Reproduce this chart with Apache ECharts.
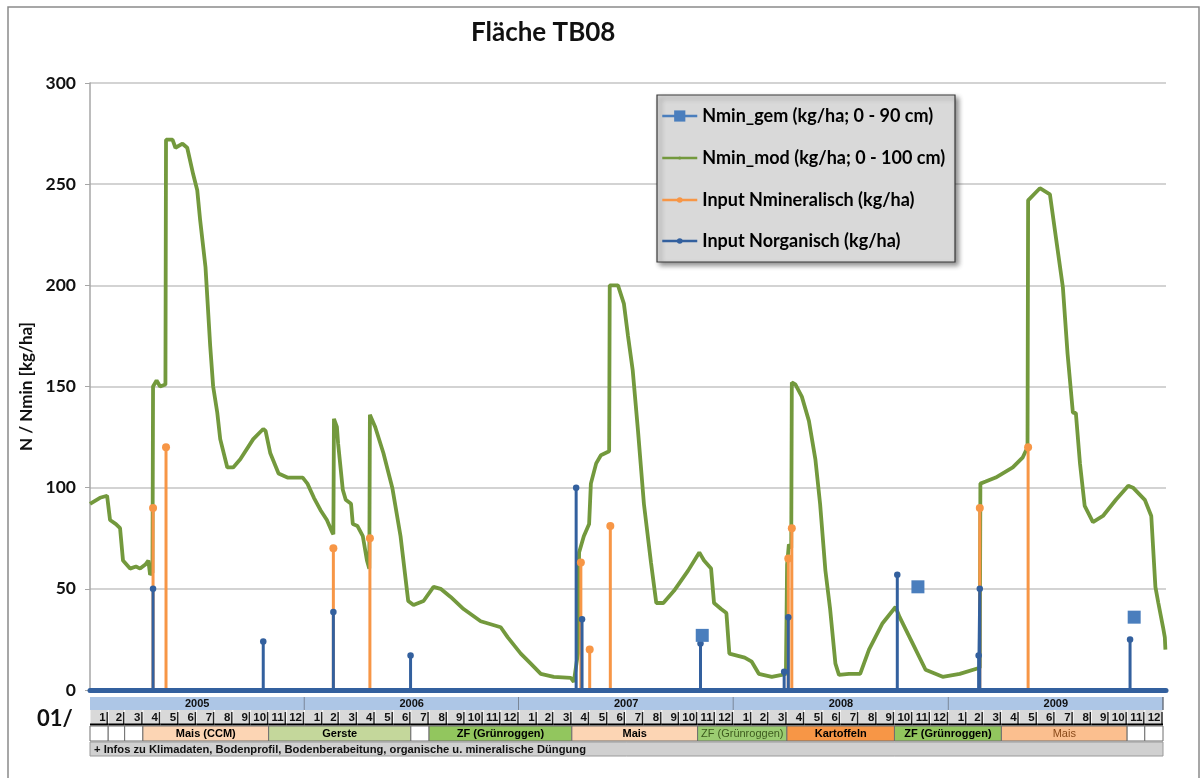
<!DOCTYPE html>
<html><head><meta charset="utf-8">
<script src="https://cdn.jsdelivr.net/npm/echarts@6/dist/echarts.min.js"></script>
<style>html,body{margin:0;padding:0;background:#fff}#c{width:1204px;height:778px}</style>
</head><body><div id="c"></div>
<script>
// ---------- DATA ----------
const nminModDates = ['2005-01-01','2005-01-18','2005-01-30','2005-02-04','2005-02-14','2005-02-21','2005-02-26','2005-03-10','2005-03-20','2005-03-27','2005-04-05','2005-04-10','2005-04-13','2005-04-17','2005-04-18','2005-04-24','2005-04-30','2005-05-09','2005-05-10','2005-05-21','2005-05-26','2005-06-07','2005-06-15','2005-06-25','2005-07-02','2005-07-07','2005-07-16','2005-07-24','2005-07-29','2005-08-05','2005-08-10','2005-08-22','2005-09-01','2005-09-13','2005-10-05','2005-10-22','2005-10-26','2005-11-03','2005-11-17','2005-12-02','2005-12-28','2006-01-05','2006-01-16','2006-01-27','2006-02-07','2006-02-16','2006-02-18','2006-02-19','2006-02-24','2006-02-26','2006-03-06','2006-03-11','2006-03-20','2006-03-23','2006-03-31','2006-04-09','2006-04-16','2006-04-20','2006-04-21','2006-04-30','2006-05-14','2006-05-29','2006-06-12','2006-06-25','2006-07-04','2006-07-21','2006-08-07','2006-08-19','2006-09-05','2006-09-27','2006-10-26','2006-11-29','2006-12-11','2007-01-02','2007-01-19','2007-02-05','2007-02-27','2007-03-28','2007-04-02','2007-04-09','2007-04-11','2007-04-19','2007-04-28','2007-05-01','2007-05-10','2007-05-18','2007-06-01','2007-06-02','2007-06-16','2007-06-26','2007-07-03','2007-07-11','2007-07-20','2007-07-30','2007-08-11','2007-08-20','2007-09-01','2007-09-19','2007-10-13','2007-11-01','2007-11-09','2007-11-21','2007-11-26','2007-12-08','2007-12-17','2007-12-22','2008-01-17','2008-01-29','2008-02-10','2008-03-03','2008-03-20','2008-03-27','2008-03-29','2008-04-01','2008-04-05','2008-04-06','2008-04-12','2008-04-23','2008-05-05','2008-05-16','2008-05-24','2008-06-02','2008-06-10','2008-06-19','2008-06-25','2008-07-12','2008-07-31','2008-08-15','2008-09-07','2008-09-29','2008-10-06','2008-10-28','2008-11-19','2008-12-18','2009-01-16','2009-02-19','2009-02-20','2009-03-01','2009-03-18','2009-04-16','2009-05-03','2009-05-11','2009-05-12','2009-06-01','2009-06-18','2009-06-28','2009-07-10','2009-07-18','2009-07-27','2009-08-01','2009-08-08','2009-08-16','2009-08-30','2009-09-16','2009-10-08','2009-10-29','2009-11-06','2009-11-26','2009-12-07','2009-12-14','2009-12-19','2009-12-27','2009-12-30','2009-12-31'];
const nminModValues = [92,95,96,84,82,80,64,60,61,60,62,64,57,58,150,153,150,151,272,272,268,270,268,255,247,232,209,170,150,137,124,110,110,114,124,129,128,117,107,105,105,102,95,89,84,78,77,134,130,122,99,94,92,82,81,76,64,60,136,130,117,100,76,44,42,44,51,50,46,40,34,31,26,18,13,8,6.5,6,4,18,68,76,82,102,112,116,118,200,200,191,175,158,128,92,63,43,43,49,59,68,64,60,43,40,38,18,16,14,8,6.5,7.5,8,62,72,70,152,151,145,133,114,92,59,40,13,7.5,8,8,20,33,41,36,23,10,6.5,8,11,102,103,105,110,115,120,242,248,245,224,199,166,137,137,112,91,83,86,94,101,100,94,86,51,43,31,26,20];

const mineralDates  = ['2005-04-18','2005-05-10','2006-02-18','2006-04-21','2007-04-14','2007-04-29','2007-06-03','2008-03-31','2008-04-06','2009-02-19','2009-05-12'];
const mineralValues = [90,120,70,75,63,20,81,65,80,90,120];

const organicDates  = ['2005-04-18','2005-10-22','2006-02-18','2006-06-29','2007-04-06','2007-04-16','2007-11-03','2008-03-24','2008-03-31','2008-10-02','2009-02-17','2009-02-19','2009-11-01'];
const organicValues = [50,24,38.5,17,100,35,23,9,36,57,17,50,25];

const nminGemDates  = ['2007-11-06','2008-11-06','2009-11-08'];
const nminGemValues = [27,51,36];

const seriesNames = ['Nmin_gem (kg/ha; 0 - 90 cm)','Nmin_mod (kg/ha; 0 - 100 cm)','Input Nmineralisch (kg/ha)','Input Norganisch (kg/ha)'];
const years = ['2005','2006','2007','2008','2009'];
const monthLabels = ['1','2','3','4','5','6','7','8','9','10','11','12'];
const cropNames  = ['','','','Mais (CCM)','Gerste','','ZF (Grünroggen)','Mais','ZF (Grünroggen)','Kartoffeln','ZF (Grünroggen)','Mais','',''];
const cropStart  = [0,1,2,3,10,18,19,27,34,39,45,51,58,59];
const cropEnd    = [1,2,3,10,18,19,27,34,39,45,51,58,59,60];
const infoText = '+ Infos zu Klimadaten, Bodenprofil, Bodenberabeitung, organische u. mineralische Düngung';

// ---------- STYLE ----------
const FONT = 'Lato, "Noto Sans", sans-serif';
const TFONT = '"Liberation Sans", Arial, sans-serif';
const C_GEM = '#4a7ebd', C_MOD = '#73993d', C_MIN = '#f79646', C_ORG = '#33609e';
const cropStyle = [
  {fill:'#ffffff'},{fill:'#ffffff'},{fill:'#ffffff'},
  {fill:'#fcd5b4', color:'#000', weight:'bold'},
  {fill:'#c4d79b', color:'#000', weight:'bold'},
  {fill:'#ffffff'},
  {fill:'#92c65e', color:'#000', weight:'bold'},
  {fill:'#fcd5b4', color:'#000', weight:'bold'},
  {fill:'#9ccd72', color:'#3d5a1e', weight:'normal'},
  {fill:'#f79646', color:'#000', weight:'bold'},
  {fill:'#92c65e', color:'#000', weight:'bold'},
  {fill:'#fbbf8f', color:'#8a4a1a', weight:'normal'},
  {fill:'#ffffff'},{fill:'#ffffff'}
];
const ROW_TOP = [0,13,29,45], ROW_H = [13,15,15,14];

// ---------- BUILD ----------
const modData = nminModDates.map((d,i)=>[d,nminModValues[i]]);
function spikes(dates, values){
  const out=[{value:['2005-01-01',0],symbol:'none'}];
  dates.forEach((d,i)=>{
    out.push({value:[d,0],symbol:'none'},{value:[d,values[i]]},{value:[d,0],symbol:'none'});
  });
  out.push({value:['2009-12-31',0],symbol:'none'});
  return out;
}
const gemData = [];
nminGemDates.forEach((d,i)=>{ gemData.push([d,nminGemValues[i]]); if(i<nminGemDates.length-1) gemData.push([d,'-']); });

function monthTs(m){ return new Date(2005+Math.floor(m/12), m%12, 1).getTime(); }
const cells = [];
years.forEach((y,i)=>cells.push({row:0,s:i*12,e:(i+1)*12,text:y,kind:'year'}));
for(let m=0;m<60;m++) cells.push({row:1,s:m,e:m+1,text:monthLabels[m%12],kind:'month'});
cropNames.forEach((n,i)=>cells.push({row:2,s:cropStart[i],e:cropEnd[i],text:n,kind:'crop',idx:i}));
cells.push({row:3,s:0,e:60,text:infoText,kind:'info'});

function renderCell(params, api){
  const c = cells[params.dataIndex];
  const x0 = api.coord([api.value(0),0])[0], x1 = api.coord([api.value(1),0])[0];
  const top = params.coordSys.y + ROW_TOP[c.row], h = ROW_H[c.row];
  const ch = [];
  if(c.kind==='year'){
    ch.push({type:'rect',shape:{x:x0,y:top,width:x1-x0,height:h},style:{fill:'#adc6e6'}});
    ch.push({type:'line',shape:{x1:x1,y1:top,x2:x1,y2:top+h},style:{stroke:'#5f6570',lineWidth:1.3}});
    ch.push({type:'text',style:{x:(x0+x1)/2,y:top+h/2+0.5,text:c.text,align:'center',verticalAlign:'middle',font:'bold 11px '+TFONT,fill:'#111'}});
  } else if(c.kind==='month'){
    ch.push({type:'rect',shape:{x:x0+0.5,y:top,width:x1-x0-1,height:h},style:{fill:'#d9d9d9'}});
    ch.push({type:'line',shape:{x1:x1-1,y1:top+2,x2:x1-1,y2:top+h},style:{stroke:'#222',lineWidth:1.4}});
    ch.push({type:'line',shape:{x1:x0,y1:top+h-0.5,x2:x1,y2:top+h-0.5},style:{stroke:'#000',lineWidth:2}});
    ch.push({type:'text',style:{x:x1-2.5,y:top+h/2,text:c.text,align:'right',verticalAlign:'middle',font:'bold 11.5px '+TFONT,fill:'#111'}});
  } else if(c.kind==='crop'){
    const st = cropStyle[c.idx];
    ch.push({type:'rect',shape:{x:x0,y:top,width:x1-x0,height:h},style:{fill:st.fill,stroke:'#6f6f6f',lineWidth:1}});
    if(c.text) ch.push({type:'text',style:{x:(x0+x1)/2,y:top+h/2+0.5,text:c.text,align:'center',verticalAlign:'middle',font:(st.weight||'bold')+' 11px '+TFONT,fill:st.color||'#000'}});
  } else {
    ch.push({type:'rect',shape:{x:x0,y:top,width:x1-x0,height:h},style:{fill:'#d0d0d0',stroke:'#9a9a9a',lineWidth:1}});
    ch.push({type:'text',style:{x:x0+4,y:top+h/2+0.5,text:c.text,align:'left',verticalAlign:'middle',font:'bold 11.2px '+TFONT,fill:'#111'}});
  }
  return {type:'group',children:ch};
}

const legendCommon = {orient:'vertical',left:661,padding:0,itemWidth:35,
  textStyle:{fontFamily:FONT,fontSize:18,fontWeight:'bold',color:'#000'},
  lineStyle:{width:2.5}};

const chart = echarts.init(document.getElementById('c'), null, {renderer:'canvas'});
chart.setOption({
  animation:false,
  backgroundColor:'#ffffff',
  title:{text:'Fläche TB08',left:466,top:15,textStyle:{fontFamily:FONT,fontSize:26,fontWeight:'bold',color:'#111'}},
  legend:[
    Object.assign({},legendCommon,{top:107,itemHeight:14,data:[seriesNames[0]]}),
    Object.assign({},legendCommon,{top:149,itemHeight:4,data:[seriesNames[1]]}),
    Object.assign({},legendCommon,{top:191,itemHeight:7,itemGap:23,data:[seriesNames[2],seriesNames[3]]})
  ],
  grid:[{left:90,right:38,top:83,bottom:88},{left:90,right:41,top:697,height:59}],
  xAxis:[
    {type:'time',gridIndex:0,min:'2005-01-01',max:'2010-01-01',show:false},
    {type:'time',gridIndex:1,min:'2005-01-01',max:'2010-01-01',show:false}
  ],
  yAxis:[
    {type:'value',gridIndex:0,min:0,max:300,interval:50,
     name:'N / Nmin [kg/ha]',nameLocation:'middle',nameGap:52,
     nameTextStyle:{fontFamily:FONT,fontSize:17,fontWeight:'bold',color:'#111'},
     axisLine:{show:true,lineStyle:{color:'#a6a6a6',width:1.5}},
     axisTick:{show:true,length:5,lineStyle:{color:'#a6a6a6'}},
     axisLabel:{fontFamily:FONT,fontSize:17.5,fontWeight:'bold',color:'#111',margin:14},
     splitLine:{lineStyle:{color:'#c4c4c4',width:1.5}}},
    {type:'value',gridIndex:1,min:0,max:1,show:false}
  ],
  graphic:[
    {type:'rect',silent:true,z:-10,shape:{x:8,y:7,width:1191,height:800},style:{fill:'none',stroke:'#8a8a8a',lineWidth:1.5}},
    {type:'rect',silent:true,z:3,shape:{x:657,y:95,width:298,height:167},
     style:{fill:'#d9d9d9',stroke:'#3a3a3a',lineWidth:1.2,shadowBlur:5,shadowOffsetX:3,shadowOffsetY:3,shadowColor:'rgba(0,0,0,0.45)'}},
    {type:'text',silent:true,style:{x:37,y:719,text:'01/',font:'bold 22px '+FONT,fill:'#111',verticalAlign:'middle'}}
  ],
  series:[
    {name:seriesNames[0],type:'line',data:gemData,connectNulls:false,symbol:'rect',symbolSize:13,z:5,
     lineStyle:{color:C_GEM,width:2.5},itemStyle:{color:C_GEM}},
    {name:seriesNames[1],type:'line',data:modData,symbol:'circle',showSymbol:false,z:3,
     lineStyle:{color:C_MOD,width:3.8},itemStyle:{color:C_MOD}},
    {name:seriesNames[2],type:'line',data:spikes(mineralDates,mineralValues),symbol:'circle',symbolSize:8,z:4,
     lineStyle:{color:C_MIN,width:3},itemStyle:{color:C_MIN}},
    {name:seriesNames[3],type:'line',data:spikes(organicDates,organicValues),symbol:'circle',symbolSize:6.5,z:4,
     lineStyle:{color:C_ORG,width:3},itemStyle:{color:C_ORG},
     markLine:{silent:true,symbol:'none',label:{show:false},lineStyle:{color:C_ORG,width:5,type:'solid',cap:'round'},data:[{yAxis:0}]}},
    {name:'table',type:'custom',xAxisIndex:1,yAxisIndex:1,clip:false,silent:true,
     data:cells.map(c=>[monthTs(c.s),monthTs(c.e)]),encode:{x:[0,1]},renderItem:renderCell}
  ]
});
</script></body></html>
